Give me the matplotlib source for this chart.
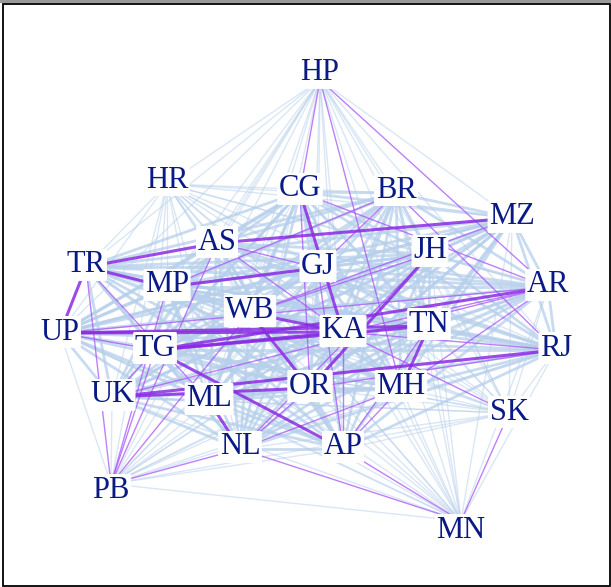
import itertools
import matplotlib.pyplot as plt
from matplotlib.patches import Rectangle

# node labels and layout positions (pixel space, y down)
states = ["HP", "HR", "CG", "BR", "MZ", "AS", "JH", "TR", "GJ", "MP", "AR", "WB", "UP",
          "KA", "TN", "TG", "RJ", "UK", "ML", "OR", "MH", "SK", "NL", "AP", "PB", "MN"]
pos_x = [320, 167, 300, 396, 512, 217, 430, 86, 318, 167, 548, 250, 60,
         343, 429, 155, 556, 112, 209, 310, 401, 509, 240, 343, 111, 461]
pos_y = [80, 184, 192, 193, 218, 243, 254, 267, 268, 287, 287, 313, 333,
         332, 326, 350, 350, 397, 401, 388, 388, 413, 449, 449, 484, 521]
label_y = [73, 180, 189, 190, 217, 242, 251, 265, 266, 285, 285, 311, 332,
           331, 324, 348, 348, 395, 399, 386, 386, 412, 447, 447, 490, 530]

# strong links (purple, thick)
strong_edges = [("TR", "AS"), ("TR", "MP"), ("UP", "KA"), ("UP", "TN"), ("TG", "KA"),
                ("WB", "KA"), ("UK", "OR"), ("TN", "MH"), ("WB", "OR"), ("CG", "KA"),
                ("AS", "MZ"), ("MP", "GJ"), ("AR", "TG"), ("RJ", "UK"), ("TR", "UP"),
                ("JH", "OR"), ("AP", "TG"), ("ML", "NL"), ("TG", "TN")]
# weaker purple links
thin_edges = [("TR", "PB"), ("TR", "ML"), ("HP", "CG"), ("HP", "MH"), ("HP", "AR"),
              ("CG", "AR"), ("BR", "RJ"), ("BR", "MP"), ("BR", "GJ"), ("WB", "JH"),
              ("MZ", "WB"), ("AR", "KA"), ("AR", "UK"), ("AR", "MH"), ("RJ", "OR"),
              ("RJ", "KA"), ("SK", "MN"), ("SK", "KA"), ("NL", "MN"), ("AP", "MN"),
              ("NL", "OR"), ("NL", "MH"), ("AP", "KA"), ("AP", "MH"), ("PB", "TG"),
              ("PB", "MP"), ("PB", "AS"), ("PB", "WB"), ("PB", "NL"), ("UK", "TG"),
              ("AS", "GJ"), ("AS", "KA"), ("CG", "OR"), ("JH", "NL"), ("AP", "GJ"),
              ("TN", "AP"), ("UP", "TG"), ("UP", "AR")]

# nodes on the rim get faint background links
faint_nodes = {"HP", "MN", "PB", "HR", "SK"}

idx = {s: i for i, s in enumerate(states)}
purple = set(frozenset(e) for e in strong_edges + thin_edges)

fig = plt.figure(figsize=(6.11, 5.87), dpi=100)
ax = fig.add_axes([0, 0, 1, 1])
ax.set_xlim(0, 611)
ax.set_ylim(587, 0)
ax.axis("off")

# background links
for a, b in itertools.combinations(states, 2):
    if frozenset((a, b)) in purple:
        continue
    i, j = idx[a], idx[b]
    if a in faint_nodes or b in faint_nodes:
        lw, al = 1.0, 0.5
    else:
        lw, al = 2.0, 0.75
    ax.plot([pos_x[i], pos_x[j]], [pos_y[i], pos_y[j]], color="#b6cfeb",
            lw=lw, alpha=al, solid_capstyle="butt", zorder=1)

for a, b in thin_edges:
    i, j = idx[a], idx[b]
    ax.plot([pos_x[i], pos_x[j]], [pos_y[i], pos_y[j]], color="#a855f7",
            lw=1.0, alpha=0.75, zorder=2)
for a, b in strong_edges:
    i, j = idx[a], idx[b]
    ax.plot([pos_x[i], pos_x[j]], [pos_y[i], pos_y[j]], color="#8a2be2",
            lw=2.2, alpha=0.85, zorder=3)

for s, x, y in zip(states, pos_x, label_y):
    ax.text(x, y, s, ha="center", va="center", fontsize=22, color="#0a1a85",
            family="Liberation Serif", zorder=5,
            bbox=dict(boxstyle="round,pad=0.05", fc="white", ec="none"))

# frame
fig.patches.append(Rectangle((3 / 611, 1 / 587), 607 / 611, 582 / 587, transform=fig.transFigure,
                             fill=False, ec="black", lw=1.3))
fig.patches.append(Rectangle((0, 584 / 587), 1, 3 / 587, transform=fig.transFigure,
                             fc="#9a9a9a", ec="none"))

fig.savefig("out.png", dpi=100)
